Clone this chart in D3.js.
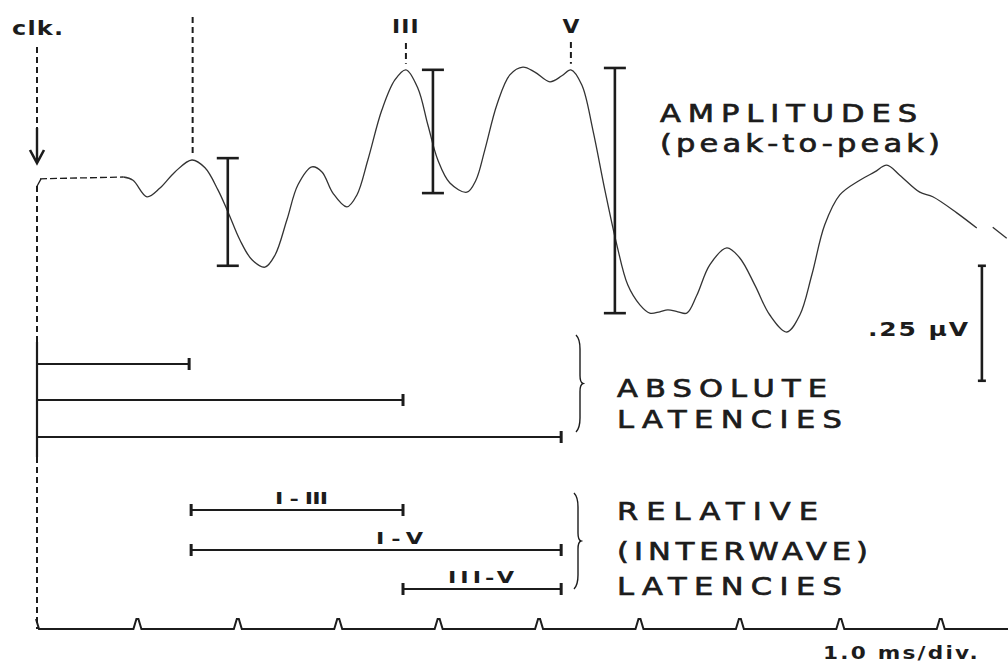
<!DOCTYPE html>
<html>
<head>
<meta charset="utf-8">
<script src="https://cdn.jsdelivr.net/npm/d3@7"></script>
<style>
  html, body { margin: 0; padding: 0; background: #fff; }
  svg { display: block; }
</style>
</head>
<body>
<svg id="chart" width="1008" height="664"></svg>
<script>
// ---------------- DATA ----------------
// Waveform: time (ms after click) and amplitude (µV, relative to pre-stimulus baseline)
const waveTime = [0.03, 0.86, 0.956, 1.095, 1.225, 1.374, 1.543, 1.673, 1.802, 1.902, 2.021, 2.141, 2.270, 2.370,
  2.489, 2.599, 2.738, 2.838, 2.947, 3.086, 3.186, 3.295, 3.435, 3.564, 3.674, 3.793, 3.893, 3.992,
  4.112, 4.281, 4.371, 4.460, 4.580, 4.709, 4.839, 4.958, 5.108, 5.227, 5.317, 5.426, 5.536, 5.655,
  5.775, 5.884, 6.004, 6.103, 6.203, 6.282, 6.382, 6.471, 6.571, 6.700, 6.870, 6.999, 7.149, 7.298,
  7.467, 7.597, 7.716, 7.845, 7.995, 8.194, 8.343, 8.463, 8.592, 8.791, 8.921, 9.160, 9.359, 9.44,
  9.518, 9.657];
const waveUV = [-0.004, 0.0, -0.007, -0.043, -0.024, 0.011, 0.037, 0.020, -0.028, -0.076, -0.137, -0.180, -0.196, -0.170,
  -0.093, -0.017, 0.022, 0.011, -0.035, -0.065, -0.039, 0.037, 0.146, 0.211, 0.233, 0.193, 0.113, 0.037,
  -0.013, -0.033, -0.007, 0.059, 0.157, 0.222, 0.239, 0.228, 0.207, 0.220, 0.233, 0.200, 0.102, -0.028,
  -0.148, -0.235, -0.278, -0.296, -0.293, -0.289, -0.293, -0.296, -0.257, -0.191, -0.154, -0.176, -0.235, -0.300,
  -0.337, -0.300, -0.213, -0.104, -0.039, -0.007, 0.011, 0.026, 0.004, -0.033, -0.043, -0.078, -0.111, null,
  -0.109, -0.133];
const preStimEnd = 0.86; // dashed (pre-response) segment ends here

// Peak labels and peak times (ms)
const peakNames = ["I", "III", "V"];
const peakTimes = [1.55, 3.674, 5.317];
const peakUV = [0.037, 0.233, 0.233];
const peakLabels = ["", "III", "V"];
// Absolute latencies (ms) used for the latency bars
const latencies = [1.515, 3.645, 5.22];

// Peak-to-peak amplitude bars: time (ms), top and bottom (µV)
const ampTime = [1.90, 3.943, 5.755];
const ampTop = [0.041, 0.233, 0.237];
const ampBottom = [-0.193, -0.035, -0.296];

// Interwave intervals: [from peak index, to peak index]
const intervalNames = ["I - III", "I-V", "III-V"];
const intervalFrom = [0, 0, 1];
const intervalTo = [1, 2, 2];

// Calibration
const scaleBarUV = 0.25;
const scaleBarLabel = ".25 \u00B5V";
const tickValues = [0, 1, 2, 3, 4, 5, 6, 7, 8, 9];
const timeLabel = "1.0 ms/div.";

// ---------------- LAYOUT ----------------
const svg = d3.select("#chart");
const ink = "#1c1c1c";
const x = d3.scaleLinear().domain([0, 9.67]).range([37, 1008]);
const y = d3.scaleLinear().domain([-0.5, 0.3]).range([407, 39]);

const absRows = [364, 400, 437];
const relRows = [510, 550, 589];
const axisY = 629;

// Waveform
const line = d3.line().defined(d => d[1] !== null)
  .x(d => x(d[0])).y(d => y(d[1])).curve(d3.curveCatmullRom.alpha(0.5));
const pts = waveTime.map((t, i) => [t, waveUV[i]]);
const pre = pts.filter(d => d[0] <= preStimEnd);
const post = pts.filter(d => d[0] >= preStimEnd);

svg.append("path")
  .attr("d", `M${x(0)},${y(-0.02)} L${x(0.04)},${y(-0.004)}`)
  .attr("fill", "none").attr("stroke", ink).attr("stroke-width", 1.3);
svg.append("path").datum(pre).attr("d", d3.line().x(d => x(d[0])).y(d => y(d[1])))
  .attr("fill", "none").attr("stroke", ink).attr("stroke-width", 1.3)
  .attr("stroke-dasharray", "7,3");
svg.append("path").datum(post).attr("d", line)
  .attr("fill", "none").attr("stroke", "#333").attr("stroke-width", 1.3);

// Click marker
const dashed = (x1, y1, x2, y2, w) => svg.append("line")
  .attr("x1", x1).attr("y1", y1).attr("x2", x2).attr("y2", y2)
  .attr("stroke", ink).attr("stroke-width", w || 2).attr("stroke-dasharray", "6,4");
dashed(x(0), 47, x(0), 128);
svg.append("line").attr("x1", x(0)).attr("y1", 128).attr("x2", x(0)).attr("y2", 162)
  .attr("stroke", ink).attr("stroke-width", 2.4);
svg.append("path").attr("d", `M${x(0) - 7},${150} L${x(0)},${163} L${x(0) + 7},${150}`)
  .attr("fill", "none").attr("stroke", ink).attr("stroke-width", 2.6);
dashed(x(0), 186, x(0), 342);
dashed(x(0), 457, x(0), axisY);
svg.append("line").attr("x1", x(0)).attr("y1", 342).attr("x2", x(0)).attr("y2", 457)
  .attr("stroke", ink).attr("stroke-width", 2.2);
svg.append("text").attr("transform", "translate(12,35) scale(1.2,1)").text("clk.")
  .attr("font-family", "DejaVu Sans, sans-serif").attr("font-weight", "bold")
  .attr("font-size", 20).attr("fill", ink).attr("letter-spacing", 1);

// Peak markers
const markerTop = [17, 43, 42];
peakTimes.forEach((t, i) => {
  dashed(x(t), markerTop[i], x(t), y(peakUV[i]) - 6, 2);
  if (peakLabels[i]) {
    svg.append("text").attr("transform", `translate(${x(t)},33) scale(1.15,1)`)
      .attr("text-anchor", "middle")
      .text(peakLabels[i]).attr("font-family", "DejaVu Sans, sans-serif")
      .attr("font-weight", "bold").attr("font-size", 19).attr("fill", ink)
      .attr("letter-spacing", i === 1 ? 1 : 0);
  }
});

// Amplitude bars
const capW = 11;
ampTime.forEach((t, i) => {
  const g = svg.append("g").attr("stroke", ink).attr("stroke-width", 2.6);
  g.append("line").attr("x1", x(t)).attr("x2", x(t)).attr("y1", y(ampTop[i])).attr("y2", y(ampBottom[i]));
  g.append("line").attr("x1", x(t) - capW).attr("x2", x(t) + capW).attr("y1", y(ampTop[i])).attr("y2", y(ampTop[i]));
  g.append("line").attr("x1", x(t) - capW).attr("x2", x(t) + capW).attr("y1", y(ampBottom[i])).attr("y2", y(ampBottom[i]));
});

// Latency bars
function bar(t0, t1, yy, startCap) {
  const g = svg.append("g").attr("stroke", ink);
  g.append("line").attr("x1", x(t0)).attr("x2", x(t1)).attr("y1", yy).attr("y2", yy).attr("stroke-width", 2.2);
  g.append("line").attr("x1", x(t1)).attr("x2", x(t1)).attr("y1", yy - 6).attr("y2", yy + 6).attr("stroke-width", 3);
  if (startCap) g.append("line").attr("x1", x(t0)).attr("x2", x(t0)).attr("y1", yy - 6).attr("y2", yy + 6).attr("stroke-width", 3);
}
latencies.forEach((l, i) => bar(0, l, absRows[i], false));
const labelX = [275, 376, 448];
const labelW = [53, 47, 66];
const lsx = 1.4;
intervalNames.forEach((n, i) => {
  const t0 = latencies[intervalFrom[i]], t1 = latencies[intervalTo[i]];
  bar(t0 + (i < 2 ? 0.02 : 0), t1, relRows[i], true);
  svg.append("text").attr("transform", `translate(${labelX[i]},${relRows[i] - 6}) scale(${lsx},1)`)
    .text(n).attr("font-family", "DejaVu Sans, sans-serif").attr("font-weight", "bold")
    .attr("font-size", 16).attr("fill", ink)
    .attr("textLength", labelW[i] / lsx).attr("lengthAdjust", "spacing");
});

// Braces
function brace(xb, y0, y1) {
  const m = (y0 + y1) / 2;
  svg.append("path")
    .attr("d", `M${xb - 3},${y0} Q${xb + 1},${y0 + 4} ${xb + 1},${y0 + 14} L${xb + 1},${m - 8}
      Q${xb + 1},${m - 1} ${xb + 4},${m} Q${xb + 1},${m + 1} ${xb + 1},${m + 8}
      L${xb + 1},${y1 - 14} Q${xb + 1},${y1 - 4} ${xb - 3},${y1}`)
    .attr("fill", "none").attr("stroke", ink).attr("stroke-width", 1.4);
}
brace(579, 335, 432);
brace(577, 493, 589);

// Big labels (wide lettering)
const sx = 1.22;
const big = (txt, xx, yy, len) => svg.append("text")
  .attr("transform", `translate(${xx},${yy}) scale(${sx},1)`).text(txt)
  .attr("font-family", "DejaVu Sans, sans-serif").attr("font-size", 25)
  .attr("fill", ink).attr("stroke", ink).attr("stroke-width", 0.7)
  .attr("textLength", len / sx).attr("lengthAdjust", "spacing");
big("AMPLITUDES", 660, 122, 257);
big("(peak-to-peak)", 660, 152, 280);
big("ABSOLUTE", 617, 397, 210);
big("LATENCIES", 617, 428, 225);
big("RELATIVE", 617, 520, 201);
big("(INTERWAVE)", 617, 560, 251);
big("LATENCIES", 617, 595, 225);

// Amplitude scale bar
const sbT = 9.41, sbTop = -0.193;
const sg = svg.append("g").attr("stroke", ink).attr("stroke-width", 2.6);
sg.append("line").attr("x1", x(sbT)).attr("x2", x(sbT)).attr("y1", y(sbTop)).attr("y2", y(sbTop - scaleBarUV));
sg.append("line").attr("x1", x(sbT) - 4).attr("x2", x(sbT) + 4).attr("y1", y(sbTop)).attr("y2", y(sbTop));
sg.append("line").attr("x1", x(sbT) - 4).attr("x2", x(sbT) + 4).attr("y1", y(sbTop - scaleBarUV)).attr("y2", y(sbTop - scaleBarUV));
svg.append("text").attr("transform", `translate(868,336) scale(1.25,1)`).text(scaleBarLabel)
  .attr("font-family", "DejaVu Sans, sans-serif").attr("font-weight", "bold")
  .attr("font-size", 20).attr("fill", ink).attr("textLength", 80).attr("lengthAdjust", "spacing");

// Time axis with small peaked tick marks
let d = "";
tickValues.forEach(t => {
  const xt = x(t);
  if (t === 0) { d = `M${xt - 1},${axisY - 10} L${xt + 2},${axisY}`; return; }
  d += ` L${xt - 4},${axisY} L${xt - 1},${axisY - 10} L${xt + 1},${axisY - 10} L${xt + 4},${axisY}`;
});
d += ` L${x(9.67)},${axisY}`;
svg.append("path").attr("d", d).attr("fill", "none").attr("stroke", ink).attr("stroke-width", 2);
svg.append("text").attr("transform", `translate(823,659) scale(1.2,1)`).text(timeLabel)
  .attr("font-family", "DejaVu Sans, sans-serif").attr("font-weight", "bold")
  .attr("font-size", 18).attr("fill", ink).attr("textLength", 129).attr("lengthAdjust", "spacing");
</script>
</body>
</html>
